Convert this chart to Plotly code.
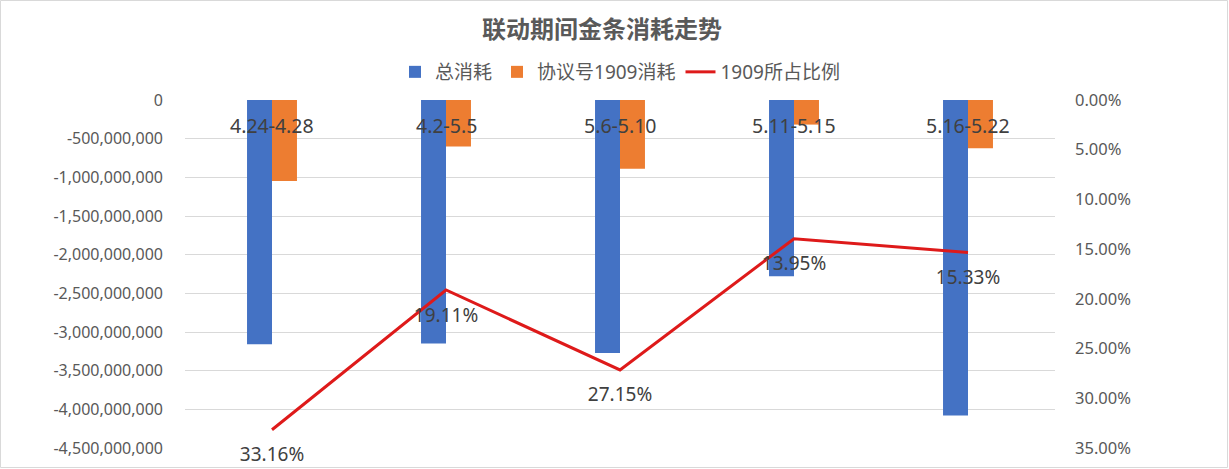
import plotly.graph_objects as go

categories = ["4.24-4.28", "4.2-5.5", "5.6-5.10", "5.11-5.15", "5.16-5.22"]
total_use = [-3160000000, -3150000000, -3270000000, -2280000000, -4080000000]
use_1909 = [-1048000000, -602000000, -888000000, -318000000, -625000000]
ratio_1909 = [0.3316, 0.1911, 0.2715, 0.1395, 0.1533]

left_tickvals = [0, -500000000, -1000000000, -1500000000, -2000000000,
                 -2500000000, -3000000000, -3500000000, -4000000000, -4500000000]
left_ticktext = ["0", "-500,000,000", "-1,000,000,000", "-1,500,000,000", "-2,000,000,000",
                 "-2,500,000,000", "-3,000,000,000", "-3,500,000,000", "-4,000,000,000",
                 "-4,500,000,000"]
right_tickvals = [0, 0.05, 0.10, 0.15, 0.20, 0.25, 0.30, 0.35]

FONT = "Noto Sans, Noto Sans CJK SC, sans-serif"
LABEL = "#595959"

fig = go.Figure()
fig.add_trace(go.Bar(x=categories, y=total_use, name="总消耗",
                     marker=dict(color="#4472C4", line=dict(width=0))))
fig.add_trace(go.Bar(x=categories, y=use_1909, name="协议号1909消耗",
                     marker=dict(color="#ED7D31", line=dict(width=0))))
fig.add_trace(go.Scatter(x=categories, y=ratio_1909, name="1909所占比例", yaxis="y2",
                         mode="lines+markers+text", cliponaxis=False,
                         line=dict(color="#DE1A1A", width=3),
                         marker=dict(size=26, color="rgba(0,0,0,0)"),
                         text=[f"{v*100:.2f}%" for v in ratio_1909],
                         textposition="bottom center",
                         textfont=dict(size=19, color="#404040", family=FONT)))

annotations = [dict(x=c, xref="x", y=1 - 25 / 348, yref="paper", text=c, showarrow=False,
                    xanchor="center", yanchor="middle",
                    font=dict(size=19.5, color="#404040", family=FONT))
               for c in categories]

fig.update_layout(
    width=1229, height=469,
    margin=dict(l=185, r=174, t=100, b=21, autoexpand=False),
    paper_bgcolor="white", plot_bgcolor="white",
    font=dict(family=FONT, color=LABEL),
    barmode="group", bargap=0.713, bargroupgap=0,
    title=dict(text="<b>联动期间金条消耗走势</b>", x=602 / 1229, xref="container", xanchor="center",
               y=1 - 30 / 469, yref="container", yanchor="middle",
               font=dict(size=24, color=LABEL, family=FONT)),
    legend=dict(orientation="h", x=0.5, xanchor="center", y=1 + 28 / 348, yanchor="middle",
                font=dict(size=19, color=LABEL), traceorder="normal",
                itemwidth=30, bgcolor="rgba(0,0,0,0)"),
    xaxis=dict(showticklabels=False, ticks="", showline=False, showgrid=False,
               zeroline=False, automargin=False),
    yaxis=dict(range=[-4500000000, 0], tickvals=left_tickvals, ticktext=left_ticktext,
               showgrid=True, gridcolor="#D9D9D9", gridwidth=1, zeroline=False,
               showline=False, ticks="", tickfont=dict(size=16, color=LABEL),
               ticklabelstandoff=21, automargin=False),
    yaxis2=dict(range=[0.35, 0], overlaying="y", side="right", tickvals=right_tickvals,
                tickformat=".2%", showgrid=False, zeroline=False, showline=False,
                ticks="", tickfont=dict(size=16.5, color=LABEL), ticklabelstandoff=19,
                automargin=False),
    annotations=annotations,
    shapes=[dict(type="rect", xref="paper", yref="paper",
                 x0=-184.5 / 870, x1=1 + 172.5 / 870, y0=-19.5 / 348, y1=1 + 99.5 / 348,
                 line=dict(color="#D9D9D9", width=1), fillcolor="rgba(0,0,0,0)",
                 layer="below")],
)

fig.write_html("out.html", config={"displayModeBar": False},
               post_script="document.body.style.margin='0';")
